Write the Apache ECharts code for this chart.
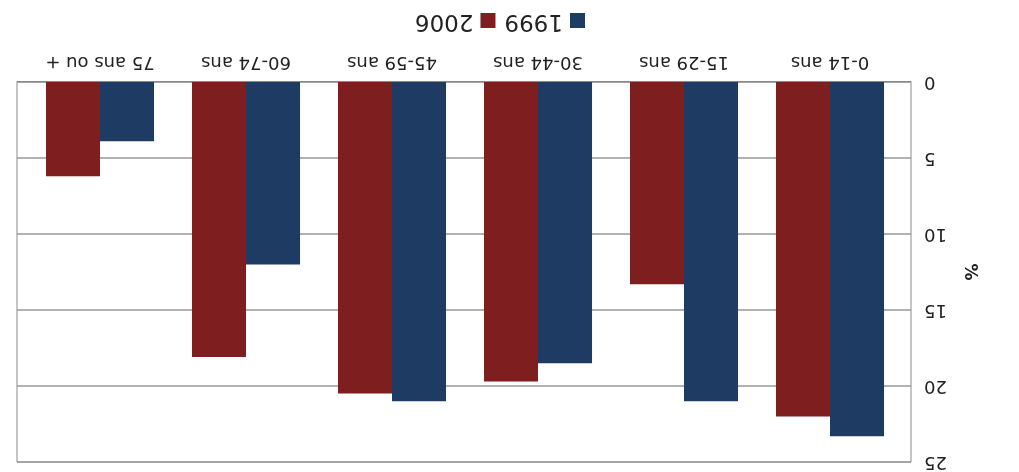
<!DOCTYPE html>
<html>
<head>
<meta charset="utf-8">
<script src="https://cdn.jsdelivr.net/npm/echarts@6/dist/echarts.min.js"></script>
<style>
html,body{margin:0;padding:0;background:#fff;overflow:hidden;}
#chart{width:1019px;height:472px;transform:rotate(180deg);transform-origin:50% 50%;}
</style>
</head>
<body>
<div id="chart"></div>
<script>
var categories = ['0-14 ans', '15-29 ans', '30-44 ans', '45-59 ans', '60-74 ans', '75 ans ou +'];
var values1999 = [23.3, 21.0, 18.5, 21.0, 12.0, 3.9];
var values2006 = [22.0, 13.3, 19.7, 20.5, 18.1, 6.2];
var yTicks = [0, 5, 10, 15, 20, 25];

var chart = echarts.init(document.getElementById('chart'), null, {renderer: 'canvas'});
var font = 'DejaVu Sans';
var yMin = yTicks[0], yMax = yTicks[yTicks.length - 1], yStep = yTicks[1] - yTicks[0];
chart.setOption({
  animation: false,
  backgroundColor: '#fff',
  legend: {
    left: 429,
    top: 435,
    itemWidth: 15,
    itemHeight: 15,
    itemGap: 9,
    icon: 'rect',
    textStyle: {fontFamily: font, fontSize: 23, color: '#222', padding: [0, 0, 0, 2]},
    data: ['1999', '2006']
  },
  grid: [
    {left: 108, right: 17, top: 10, bottom: 82, show: true, borderColor: '#8a8a8a', borderWidth: 1, backgroundColor: '#fff'},
    {left: 116, right: 27, top: 10, bottom: 82}
  ],
  xAxis: [
    {
      type: 'category', gridIndex: 0, data: categories,
      show: true,
      axisTick: {show: false},
      axisLabel: {show: false},
      axisLine: {lineStyle: {color: '#8a8a8a', width: 1}}
    },
    {
      type: 'category', gridIndex: 1, data: categories,
      axisTick: {show: false},
      axisLine: {show: false},
      axisLabel: {fontFamily: font, fontSize: 18, color: '#222', margin: 11}
    }
  ],
  yAxis: [
    {
      type: 'value', gridIndex: 0,
      min: yMin, max: yMax, interval: yStep,
      name: '%',
      nameLocation: 'middle',
      nameGap: 50,
      nameRotate: 90,
      nameTextStyle: {fontFamily: font, fontSize: 17, color: '#222', fontWeight: 'bold'},
      axisLine: {show: false},
      axisTick: {show: false},
      axisLabel: {fontFamily: font, fontSize: 18, color: '#222', margin: 13},
      splitLine: {lineStyle: {color: '#999', width: 1.5}}
    },
    {
      type: 'value', gridIndex: 1,
      min: yMin, max: yMax, interval: yStep,
      show: false,
      splitLine: {show: false}
    }
  ],
  series: [
    {
      name: '1999', type: 'bar', data: values1999,
      xAxisIndex: 1, yAxisIndex: 1,
      itemStyle: {color: '#1d3b63'},
      barGap: '0%', barCategoryGap: '26%'
    },
    {
      name: '2006', type: 'bar', data: values2006,
      xAxisIndex: 1, yAxisIndex: 1,
      itemStyle: {color: '#7e1e1f'},
      barGap: '0%', barCategoryGap: '26%'
    }
  ]
});
</script>
</body>
</html>
